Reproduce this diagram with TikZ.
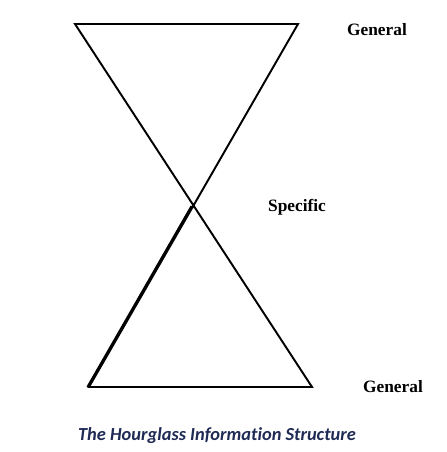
\documentclass[tikz,border=0pt]{standalone}
\usepackage{fontspec}
\setmainfont{Liberation Serif}
\newfontfamily\capfont[Ligatures=NoCommon]{Carlito}
\definecolor{capblue}{HTML}{1F2A55}
\begin{document}
\begin{tikzpicture}[x=0.75pt,y=-0.75pt,
  edge/.style={draw=black,line width=1.45pt,line join=miter},
  lbl/.style={font=\bfseries\fontsize{13}{15}\selectfont,inner sep=0pt},
  caption/.style={font=\capfont\bfseries\itshape\fontsize{13.8}{16}\selectfont,text=capblue,inner sep=0pt}]
\useasboundingbox (0,0) rectangle (446,452);
\coordinate (tl) at (75,24);
\coordinate (tr) at (298,24);
\coordinate (bl) at (89,387);
\coordinate (br) at (312,387);
\coordinate (bl2) at (87.4,387);
\coordinate (ap2) at (191.5,206);
\draw[edge] (tl) -- (tr) -- (bl) -- (br) -- cycle;
\draw[edge] (ap2) -- (bl2);
\node[lbl] (g1) at (377,30) {General};
\node[lbl] (sp) at (297,207) {Specific};
\node[lbl] (g2) at (393,387) {General};
\node[caption] (cap) at (217,436) {The Hourglass Information Structure};
\end{tikzpicture}
\end{document}
